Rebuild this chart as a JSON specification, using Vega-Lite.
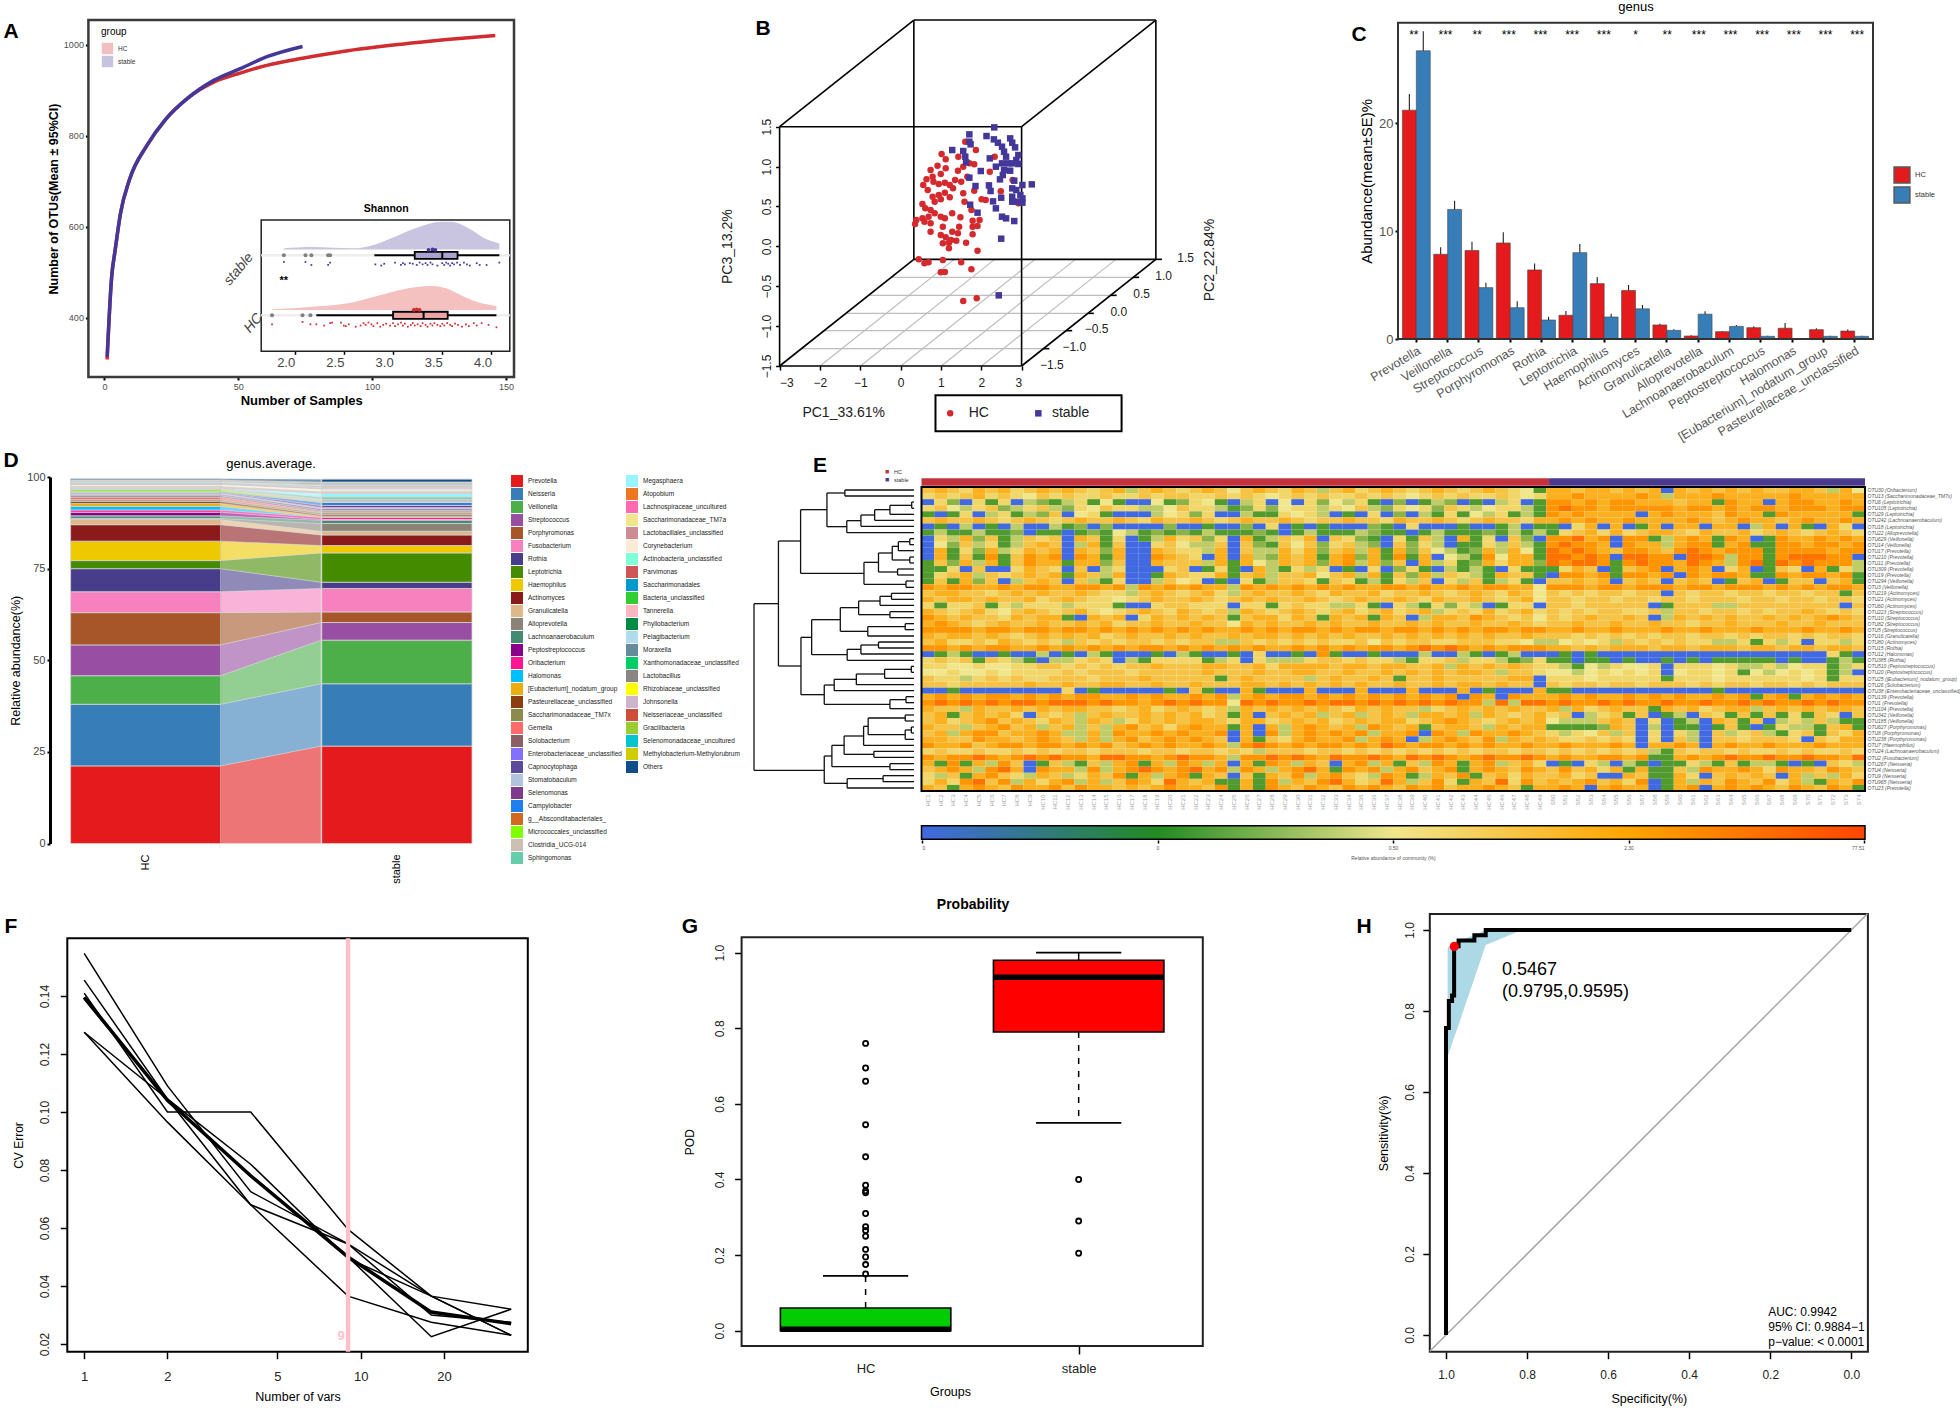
{"$schema":"https://vega.github.io/schema/vega-lite/v6.json","width":1960,"height":1408,"autosize":{"type":"none"},"padding":0,"background":"white",
"config":{"view":{"stroke":null},"font":"Liberation Sans","axis":{"grid":false,"labelFont":"Liberation Sans","titleFont":"Liberation Sans","titleFontWeight":"normal","titleColor":"black","labelColor":"#222","domain":false,"tickColor":"black"},"legend":{"labelFont":"Liberation Sans","titleFont":"Liberation Sans"},"text":{"font":"Liberation Sans"}},
"resolve":{"scale":{"x":"independent","y":"independent","color":"independent","fill":"independent","xOffset":"independent"}},
"layer":[
{"data":{"values":[{"x0":-6,"x1":153,"y0":270.5,"y1":1054}]},"mark":{"type":"rect","fill":"transparent","stroke":"#3a3a3a","strokeWidth":2.5},
"encoding":{"x":{"field":"x0","type":"quantitative","scale":{"domain":[-6,153],"range":[88.4,514],"nice":false,"zero":false},"axis":{"orient":"bottom","offset":-1031,"values":[0,50,100,150],"format":"d","labelFontSize":9,"labelColor":"#4d4d4d","tickWidth":2,"tickSize":3,"title":"Number of Samples","titleFontSize":13,"titleFontWeight":"bold","titlePadding":3}},"x2":{"field":"x1"},"y":{"field":"y0","type":"quantitative","scale":{"domain":[270.5,1054],"range":[377,20],"nice":false,"zero":false},"axis":{"orient":"left","offset":-88.4,"values":[400,600,800,1000],"format":"d","labelFontSize":9,"labelColor":"#4d4d4d","tickWidth":2,"tickSize":3,"title":"Number of OTUs(Mean ± 95%CI)","titleFontSize":12.5,"titleFontWeight":"bold","titlePadding":3}},"y2":{"field":"y1"}}},
{"encoding":{"x":{"field":"x","type":"quantitative","scale":{"domain":[-6,153],"range":[88.4,514],"nice":false,"zero":false},"axis":null},"y":{"field":"y","type":"quantitative","scale":{"domain":[270.5,1054],"range":[377,20],"nice":false,"zero":false},"axis":null}},
"layer":[
{"data":{"values":[{"x":1,"y":309},{"x":2.7,"y":491},{"x":4,"y":549},{"x":6,"y":630},{"x":9.3,"y":703},{"x":16,"y":780},{"x":22.7,"y":835},{"x":31,"y":882},{"x":41,"y":918},{"x":51,"y":938},{"x":61,"y":955},{"x":74,"y":970},{"x":89,"y":985},{"x":111,"y":1001},{"x":128,"y":1011},{"x":146,"y":1020}]},"mark":{"type":"line","color":"#D12C30","strokeWidth":3.5,"interpolate":"monotone"}},
{"data":{"values":[{"x":1,"y":315},{"x":2.7,"y":491},{"x":4,"y":549},{"x":6,"y":630},{"x":9.3,"y":703},{"x":16,"y":780},{"x":22.7,"y":835},{"x":31,"y":882},{"x":41,"y":922},{"x":51,"y":948},{"x":61,"y":974},{"x":74,"y":996}]},"mark":{"type":"line","color":"#43389A","strokeWidth":3.5,"interpolate":"monotone"}},
{"data":{"values":[{"x":10,"y":900,"g":"HC"},{"x":10,"y":900,"g":"stable"}]},"mark":{"type":"square","opacity":0},"encoding":{"fill":{"field":"g","type":"nominal","scale":{"domain":["HC","stable"],"range":["#D12C30","#43389A"]},"legend":{"title":"group","orient":"none","legendX":101,"legendY":27,"symbolType":"square","symbolOpacity":0.3,"symbolSize":130,"labelFontSize":6.5,"titleFontSize":10,"titleFontWeight":"normal","rowPadding":-0.7,"labelColor":"#333"}}}}
]},
{"data":{"values":[{"x0":1.66,"x1":4.186,"y0":0.4,"y1":2.59}]},"mark":{"type":"rect","fill":"white","stroke":"#222","strokeWidth":1.5},
"encoding":{"x":{"field":"x0","type":"quantitative","scale":{"domain":[1.66,4.186],"range":[261.2,509.8],"nice":false,"zero":false},"axis":{"orient":"bottom","offset":-1056.7,"values":[2,2.5,3,3.5,4],"format":".1f","labelFontSize":13,"labelColor":"#444","labelOffset":-9,"tickSize":3,"tickWidth":1.5,"title":null}},"x2":{"field":"x1"},"y":{"field":"y0","type":"quantitative","scale":{"domain":[0.4,2.59],"range":[351.3,220],"nice":false,"zero":false},"axis":null},"y2":{"field":"y1"}}},
{"encoding":{"x":{"field":"x","type":"quantitative","scale":{"domain":[1.66,4.186],"range":[261.2,509.8],"nice":false,"zero":false},"axis":null},"y":{"field":"y","type":"quantitative","scale":{"domain":[0.4,2.59],"range":[351.3,220],"nice":false,"zero":false},"axis":null}},
"layer":[
{"data":{"values":[{"x":1.75},{"x":2},{"x":2.25},{"x":2.5},{"x":2.75},{"x":3},{"x":3.25},{"x":3.5},{"x":3.75},{"x":4}]},"mark":{"type":"rule","color":"#e6e6e6","strokeWidth":1.3},"encoding":{"y":{"datum":0.4,"type":"quantitative","axis":null},"y2":{"datum":2.59}}},
{"data":{"values":[{"x":1.66,"x2":4.186,"y":1},{"x":1.66,"x2":4.186,"y":2}]},"mark":{"type":"rule","color":"#eeeeee","strokeWidth":2.5},"encoding":{"x2":{"field":"x2"}}},
{"data":{"values":[{"x":1.89,"y":2.117,"b":2.1},{"x":2.18,"y":2.139,"b":2.1},{"x":2.59,"y":2.117,"b":2.1},{"x":2.82,"y":2.183,"b":2.1},{"x":3.0,"y":2.3,"b":2.1},{"x":3.22,"y":2.45,"b":2.1},{"x":3.5,"y":2.561,"b":2.1},{"x":3.59,"y":2.561,"b":2.1},{"x":3.77,"y":2.45,"b":2.1},{"x":3.95,"y":2.267,"b":2.1},{"x":4.08,"y":2.2,"b":2.1}]},"mark":{"type":"area","color":"#C9C5E0","interpolate":"monotone"},"encoding":{"y2":{"field":"b"}}},
{"data":{"values":[{"x":1.77,"y":1.1,"b":1.09},{"x":2.18,"y":1.144,"b":1.09},{"x":2.54,"y":1.2,"b":1.09},{"x":2.77,"y":1.294,"b":1.09},{"x":3.0,"y":1.394,"b":1.09},{"x":3.22,"y":1.467,"b":1.09},{"x":3.41,"y":1.489,"b":1.09},{"x":3.54,"y":1.45,"b":1.09},{"x":3.72,"y":1.311,"b":1.09},{"x":3.9,"y":1.2,"b":1.09},{"x":4.05,"y":1.156,"b":1.09}]},"mark":{"type":"area","color":"#F4C0C0","interpolate":"monotone"},"encoding":{"y2":{"field":"b"}}},
{"data":{"values":[{"x":2.81,"x2":4.08,"y":2},{"x":2.22,"x2":4.05,"y":1}]},"mark":{"type":"rule","color":"black","strokeWidth":2},"encoding":{"x2":{"field":"x2"}}},
{"data":{"values":[{"x":3.22,"x2":3.655,"y":1.94,"y2":2.06}]},"mark":{"type":"rect","fill":"#A9A3D2","stroke":"black","strokeWidth":1.8},"encoding":{"x2":{"field":"x2"},"y2":{"field":"y2"}}},
{"data":{"values":[{"x":3.0,"x2":3.555,"y":0.94,"y2":1.06}]},"mark":{"type":"rect","fill":"#EDA3A3","stroke":"black","strokeWidth":1.8},"encoding":{"x2":{"field":"x2"},"y2":{"field":"y2"}}},
{"data":{"values":[{"x":3.5,"y":1.94,"y2":2.06},{"x":3.31,"y":0.94,"y2":1.06}]},"mark":{"type":"rule","color":"black","strokeWidth":2},"encoding":{"y2":{"field":"y2"}}},
{"data":{"values":[{"x":1.89,"y":2},{"x":2.11,"y":2},{"x":2.17,"y":2},{"x":2.34,"y":2},{"x":2.36,"y":2},{"x":1.77,"y":1},{"x":2.08,"y":1},{"x":2.16,"y":1}]},"mark":{"type":"circle","color":"#808080","size":16,"opacity":1}},
{"data":{"values":[{"x":3.4,"y":2.1},{"x":3.36,"y":2.09},{"x":3.43,"y":2.09}]},"mark":{"type":"circle","color":"#43389A","size":14,"opacity":1}},
{"data":{"values":[{"x":3.24,"y":1.1},{"x":3.21,"y":1.09},{"x":3.27,"y":1.09}]},"mark":{"type":"circle","color":"#D12C30","size":14,"opacity":1}},
{"data":{"values":[{"x":1.89,"y":1.89},{"x":2.11,"y":1.89},{"x":2.17,"y":1.84},{"x":2.34,"y":1.84},{"x":2.36,"y":1.88},{"x":2.82,"y":1.85},{"x":2.88,"y":1.83},{"x":2.91,"y":1.86},{"x":3.02,"y":1.88},{"x":3.08,"y":1.84},{"x":3.1,"y":1.87},{"x":3.12,"y":1.85},{"x":3.17,"y":1.87},{"x":3.2,"y":1.86},{"x":3.24,"y":1.84},{"x":3.27,"y":1.88},{"x":3.3,"y":1.85},{"x":3.33,"y":1.87},{"x":3.35,"y":1.84},{"x":3.38,"y":1.88},{"x":3.4,"y":1.85},{"x":3.45,"y":1.83},{"x":3.5,"y":1.87},{"x":3.52,"y":1.84},{"x":3.54,"y":1.88},{"x":3.56,"y":1.86},{"x":3.58,"y":1.83},{"x":3.6,"y":1.87},{"x":3.62,"y":1.85},{"x":3.65,"y":1.88},{"x":3.68,"y":1.84},{"x":3.72,"y":1.88},{"x":3.75,"y":1.85},{"x":3.78,"y":1.83},{"x":3.85,"y":1.87},{"x":3.88,"y":1.84},{"x":3.95,"y":1.84},{"x":4.08,"y":1.88}]},"mark":{"type":"square","color":"#43389A","size":3,"opacity":1}},
{"data":{"values":[{"x":1.77,"y":0.85},{"x":2.08,"y":0.89},{"x":2.16,"y":0.85},{"x":2.22,"y":0.85},{"x":2.3,"y":0.83},{"x":2.36,"y":0.87},{"x":2.38,"y":0.88},{"x":2.47,"y":0.88},{"x":2.5,"y":0.83},{"x":2.52,"y":0.82},{"x":2.55,"y":0.85},{"x":2.62,"y":0.81},{"x":2.67,"y":0.83},{"x":2.7,"y":0.87},{"x":2.72,"y":0.84},{"x":2.75,"y":0.88},{"x":2.78,"y":0.85},{"x":2.8,"y":0.82},{"x":2.84,"y":0.87},{"x":2.87,"y":0.81},{"x":2.9,"y":0.84},{"x":2.93,"y":0.86},{"x":2.97,"y":0.83},{"x":3.0,"y":0.87},{"x":3.02,"y":0.82},{"x":3.05,"y":0.85},{"x":3.08,"y":0.88},{"x":3.1,"y":0.83},{"x":3.12,"y":0.86},{"x":3.15,"y":0.81},{"x":3.18,"y":0.84},{"x":3.2,"y":0.87},{"x":3.22,"y":0.83},{"x":3.25,"y":0.85},{"x":3.28,"y":0.82},{"x":3.3,"y":0.87},{"x":3.33,"y":0.84},{"x":3.35,"y":0.81},{"x":3.38,"y":0.86},{"x":3.4,"y":0.83},{"x":3.42,"y":0.87},{"x":3.45,"y":0.84},{"x":3.48,"y":0.82},{"x":3.5,"y":0.86},{"x":3.52,"y":0.83},{"x":3.55,"y":0.87},{"x":3.58,"y":0.84},{"x":3.6,"y":0.82},{"x":3.63,"y":0.86},{"x":3.66,"y":0.84},{"x":3.7,"y":0.81},{"x":3.74,"y":0.85},{"x":3.77,"y":0.82},{"x":3.82,"y":0.87},{"x":3.85,"y":0.83},{"x":3.9,"y":0.87},{"x":3.97,"y":0.84},{"x":4.05,"y":0.8}]},"mark":{"type":"square","color":"#D12C30","size":3,"opacity":1}},
{"data":{"values":[{"x":1.89,"y":1.57,"t":"**"}]},"mark":{"type":"text","fontSize":11,"fontWeight":"bold","baseline":"middle"},"encoding":{"text":{"field":"t"}}},
{"data":{"values":[{"x":1.43,"y":1.77,"t":"stable"},{"x":1.58,"y":0.87,"t":"HC"}]},"mark":{"type":"text","fontSize":14,"fontStyle":"italic","angle":310,"color":"#444","align":"center","baseline":"middle"},"encoding":{"text":{"field":"t"}}},
{"data":{"values":[{"x":2.93,"y":2.77,"t":"Shannon"}]},"mark":{"type":"text","fontSize":10.5,"fontWeight":"bold","align":"center","baseline":"middle"},"encoding":{"text":{"field":"t"}}}
]},
{"encoding":{"x":{"field":"x","type":"quantitative","axis":null},"y":{"field":"y","type":"quantitative","axis":null},"x2":{"field":"x2"},"y2":{"field":"y2"}},
"layer":[
{"data":{"values":[{"x":248.5,"x2":841.5,"y":1046,"y2":1046},{"x":304,"x2":897,"y":992,"y2":992},{"x":357.4,"x2":950,"y":940,"y2":940},{"x":413,"x2":1006,"y":886,"y2":886},{"x":468.5,"x2":1061.5,"y":832,"y2":832},{"x":294,"x2":623,"y":1098,"y2":778},{"x":393,"x2":722,"y":1098,"y2":778},{"x":492,"x2":821,"y":1098,"y2":778},{"x":591,"x2":920,"y":1098,"y2":778},{"x":690,"x2":1019,"y":1098,"y2":778}]},"mark":{"type":"rule","color":"#bdbdbd","strokeWidth":1.2},
"encoding":{"x":{"field":"x","type":"quantitative","scale":{"domain":[195,788],"range":[779.6,1021.6],"nice":false,"zero":false},"axis":null},"y":{"field":"y","type":"quantitative","scale":{"domain":[1098,380],"range":[366,126.7],"nice":false,"zero":false},"axis":null}}},
{"data":{"values":[{"x":195,"x2":788,"y":380,"y2":380},{"x":195,"x2":788,"y":1098,"y2":1098},{"x":195,"x2":195,"y":380,"y2":1098},{"x":788,"x2":788,"y":380,"y2":1098},{"x":524,"x2":1117,"y":60,"y2":60},{"x":524,"x2":1117,"y":778,"y2":778},{"x":524,"x2":524,"y":60,"y2":778},{"x":1117,"x2":1117,"y":60,"y2":778},{"x":195,"x2":524,"y":380,"y2":60},{"x":788,"x2":1117,"y":380,"y2":60},{"x":195,"x2":524,"y":1098,"y2":778},{"x":788,"x2":1117,"y":1098,"y2":778},{"x":841.5,"x2":856,"y":1046,"y2":1046},{"x":897,"x2":912,"y":992,"y2":992},{"x":950,"x2":965,"y":940,"y2":940},{"x":1006,"x2":1021,"y":886,"y2":886},{"x":1061.5,"x2":1076,"y":832,"y2":832},{"x":1117,"x2":1132,"y":778,"y2":778}]},"mark":{"type":"rule","color":"black","strokeWidth":1.6}},
{"data":{"values":[{"x":650,"y":425},{"x":676,"y":450},{"x":633,"y":470},{"x":592,"y":462},{"x":602,"y":478},{"x":582,"y":497},{"x":602,"y":505},{"x":590,"y":522},{"x":565,"y":510},{"x":570,"y":530},{"x":555,"y":538},{"x":547,"y":555},{"x":558,"y":570},{"x":572,"y":545},{"x":585,"y":552},{"x":600,"y":548},{"x":612,"y":555},{"x":625,"y":540},{"x":632,"y":512},{"x":645,"y":500},{"x":660,"y":490},{"x":672,"y":493},{"x":655,"y":530},{"x":640,"y":545},{"x":620,"y":565},{"x":600,"y":578},{"x":585,"y":585},{"x":570,"y":590},{"x":575,"y":605},{"x":590,"y":598},{"x":612,"y":592},{"x":645,"y":580},{"x":672,"y":572},{"x":690,"y":598},{"x":700,"y":600},{"x":737,"y":574},{"x":710,"y":515},{"x":648,"y":605},{"x":665,"y":630},{"x":545,"y":612},{"x":552,"y":625},{"x":565,"y":630},{"x":575,"y":640},{"x":560,"y":650},{"x":545,"y":655},{"x":530,"y":660},{"x":527,"y":672},{"x":550,"y":665},{"x":565,"y":670},{"x":590,"y":650},{"x":600,"y":655},{"x":618,"y":640},{"x":638,"y":652},{"x":668,"y":662},{"x":685,"y":660},{"x":668,"y":680},{"x":680,"y":678},{"x":635,"y":680},{"x":618,"y":695},{"x":595,"y":680},{"x":565,"y":695},{"x":590,"y":705},{"x":602,"y":712},{"x":615,"y":720},{"x":632,"y":700},{"x":628,"y":722},{"x":610,"y":728},{"x":595,"y":730},{"x":610,"y":745},{"x":652,"y":728},{"x":668,"y":703},{"x":680,"y":752},{"x":536,"y":778},{"x":550,"y":790},{"x":560,"y":787},{"x":595,"y":780},{"x":640,"y":787},{"x":665,"y":808},{"x":590,"y":817},{"x":600,"y":816},{"x":645,"y":903},{"x":678,"y":895},{"x":722,"y":470},{"x":780,"y":610},{"x":766,"y":540},{"x":613,"y":1240}]},"mark":{"type":"circle","color":"#D42A2E","size":42,"opacity":1},"encoding":{"x2":null,"y2":null}},
{"data":{"values":[{"x":721,"y":382},{"x":660,"y":403},{"x":702,"y":408},{"x":660,"y":425},{"x":663,"y":433},{"x":720,"y":418},{"x":730,"y":428},{"x":760,"y":415},{"x":765,"y":428},{"x":740,"y":440},{"x":772,"y":442},{"x":618,"y":450},{"x":645,"y":453},{"x":650,"y":470},{"x":652,"y":487},{"x":710,"y":475},{"x":745,"y":455},{"x":750,"y":470},{"x":780,"y":465},{"x":775,"y":480},{"x":740,"y":490},{"x":725,"y":500},{"x":755,"y":490},{"x":765,"y":490},{"x":780,"y":492},{"x":745,"y":510},{"x":760,"y":512},{"x":742,"y":525},{"x":735,"y":538},{"x":688,"y":513},{"x":660,"y":533},{"x":675,"y":558},{"x":708,"y":556},{"x":712,"y":573},{"x":770,"y":542},{"x":790,"y":555},{"x":813,"y":553},{"x":765,"y":565},{"x":775,"y":570},{"x":785,"y":585},{"x":765,"y":590},{"x":790,"y":595},{"x":775,"y":605},{"x":765,"y":605},{"x":790,"y":608},{"x":718,"y":604},{"x":738,"y":593},{"x":662,"y":614},{"x":725,"y":625},{"x":680,"y":638},{"x":740,"y":650},{"x":750,"y":655},{"x":770,"y":663},{"x":738,"y":716},{"x":732,"y":886},{"x":829,"y":1240}]},"mark":{"type":"square","color":"#43389A","size":42,"opacity":1},"encoding":{"x2":null,"y2":null}},
{"data":{"values":[{"x":577,"x2":1033,"y":1186,"y2":1294}]},"mark":{"type":"rect","fill":"transparent","stroke":"black","strokeWidth":2}},
{"data":{"values":[{"x":862,"y":1095,"t":"−1.5"},{"x":917,"y":1042,"t":"−1.0"},{"x":972,"y":988,"t":"−0.5"},{"x":1026,"y":935,"t":"0.0"},{"x":1082,"y":882,"t":"0.5"},{"x":1136,"y":828,"t":"1.0"},{"x":1190,"y":775,"t":"1.5"}]},"mark":{"type":"text","fontSize":12,"align":"center","baseline":"middle","color":"#222"},"encoding":{"text":{"field":"t"},"x2":null,"y2":null}},
{"data":{"values":[{"x":352,"y":1240,"t":"PC1_33.61%"},{"x":683,"y":1240,"t":"HC"},{"x":908,"y":1240,"t":"stable"}]},"mark":{"type":"text","fontSize":14,"align":"center","baseline":"middle","color":"#222"},"encoding":{"text":{"field":"t"},"x2":null,"y2":null}},
{"data":{"values":[{"x":68,"y":740,"t":"PC3_13.2%"},{"x":1250,"y":780,"t":"PC2_22.84%"}]},"mark":{"type":"text","fontSize":14,"angle":270,"align":"center","baseline":"middle","color":"#222"},"encoding":{"text":{"field":"t"},"x2":null,"y2":null}}
]},
{"data":{"values":[{"a":-3,"b":-1.5},{"a":3,"b":1.5}]},"mark":{"type":"point","opacity":0},"encoding":{"x":{"field":"a","type":"quantitative","scale":{"domain":[-3,3],"range":[779.6,1021.6],"nice":false,"zero":false},"axis":{"orient":"bottom","offset":-1042,"values":[-3,-2,-1,0,1,2,3],"labelFontSize":12,"labelPadding":7,"tickSize":4,"tickWidth":1.5,"title":null,"format":"d"}},"y":{"field":"b","type":"quantitative","scale":{"domain":[-1.5,1.5],"range":[366,126.7],"nice":false,"zero":false},"axis":{"orient":"left","offset":-779.6,"values":[-1.5,-1,-0.5,0,0.5,1,1.5],"format":".1f","labelFontSize":12,"labelAngle":-90,"tickSize":4,"tickWidth":1.5,"title":null}}}},
{"data":{"values":[{"genus":"Prevotella","g":"HC","v":21.2,"e":22.7},{"genus":"Prevotella","g":"stable","v":26.7,"e":28.5},{"genus":"Veillonella","g":"HC","v":7.85,"e":8.5},{"genus":"Veillonella","g":"stable","v":12,"e":12.8},{"genus":"Streptococcus","g":"HC","v":8.2,"e":9},{"genus":"Streptococcus","g":"stable","v":4.76,"e":5.2},{"genus":"Porphyromonas","g":"HC","v":8.9,"e":9.9},{"genus":"Porphyromonas","g":"stable","v":2.9,"e":3.5},{"genus":"Rothia","g":"HC","v":6.4,"e":7},{"genus":"Rothia","g":"stable","v":1.76,"e":2.05},{"genus":"Leptotrichia","g":"HC","v":2.2,"e":2.6},{"genus":"Leptotrichia","g":"stable","v":8,"e":8.8},{"genus":"Haemophilus","g":"HC","v":5.13,"e":5.75},{"genus":"Haemophilus","g":"stable","v":2.04,"e":2.35},{"genus":"Actinomyces","g":"HC","v":4.5,"e":5},{"genus":"Actinomyces","g":"stable","v":2.8,"e":3.15},{"genus":"Granulicatella","g":"HC","v":1.3,"e":1.42},{"genus":"Granulicatella","g":"stable","v":0.8,"e":0.9},{"genus":"Alloprevotella","g":"HC","v":0.28,"e":0.34},{"genus":"Alloprevotella","g":"stable","v":2.3,"e":2.57},{"genus":"Lachnoanaerobaculum","g":"HC","v":0.68,"e":0.74},{"genus":"Lachnoanaerobaculum","g":"stable","v":1.17,"e":1.3},{"genus":"Peptostreptococcus","g":"HC","v":1.05,"e":1.17},{"genus":"Peptostreptococcus","g":"stable","v":0.25,"e":0.31},{"genus":"Halomonas","g":"HC","v":1,"e":1.48},{"genus":"Halomonas","g":"stable","v":0.02,"e":0.02},{"genus":"[Eubacterium]_nodatum_group","g":"HC","v":0.87,"e":1},{"genus":"[Eubacterium]_nodatum_group","g":"stable","v":0.25,"e":0.31},{"genus":"Pasteurellaceae_unclassified","g":"HC","v":0.74,"e":0.87},{"genus":"Pasteurellaceae_unclassified","g":"stable","v":0.25,"e":0.31}]},
"encoding":{"x":{"field":"genus","type":"nominal","sort":null,"scale":{"range":[1398,1873],"paddingInner":0.11,"paddingOuter":0.14},"axis":{"orient":"bottom","offset":-1069,"labelAngle":-31,"labelAlign":"right","labelFontSize":12.5,"labelColor":"#555","labelLimit":0,"labelOverlap":false,"tickSize":3,"tickWidth":2,"title":null}},"xOffset":{"field":"g","type":"nominal"},"y":{"field":"v","type":"quantitative","scale":{"domain":[0,29.3],"range":[339,22.7],"nice":false},"axis":null}},
"layer":[
{"mark":{"type":"bar","stroke":"#444","strokeWidth":0.6},"encoding":{"color":{"field":"g","type":"nominal","scale":{"domain":["HC","stable"],"range":["#E41A1C","#377EB8"]},"legend":{"title":null,"orient":"none","legendX":1893,"legendY":166,"symbolType":"square","symbolSize":250,"symbolStrokeColor":"#555","labelFontSize":7.5,"labelColor":"#333","rowPadding":-6.4,"labelOffset":4}}}},
{"mark":{"type":"rule","color":"#222","strokeWidth":1.1},"encoding":{"y2":{"field":"e"}}}
]},
{"data":{"values":[{"genus":"Prevotella","t":"**"},{"genus":"Veillonella","t":"***"},{"genus":"Streptococcus","t":"**"},{"genus":"Porphyromonas","t":"***"},{"genus":"Rothia","t":"***"},{"genus":"Leptotrichia","t":"***"},{"genus":"Haemophilus","t":"***"},{"genus":"Actinomyces","t":"*"},{"genus":"Granulicatella","t":"**"},{"genus":"Alloprevotella","t":"***"},{"genus":"Lachnoanaerobaculum","t":"***"},{"genus":"Peptostreptococcus","t":"***"},{"genus":"Halomonas","t":"***"},{"genus":"[Eubacterium]_nodatum_group","t":"***"},{"genus":"Pasteurellaceae_unclassified","t":"***"}]},"mark":{"type":"text","fontSize":12,"baseline":"top"},"encoding":{"x":{"field":"genus","type":"nominal","sort":null,"scale":{"range":[1398,1873],"paddingInner":0.11,"paddingOuter":0.14},"axis":null},"y":{"datum":1,"type":"quantitative","scale":{"domain":[0,1],"range":[22,30]},"axis":null},"text":{"field":"t"}}},
{"data":{"values":[{"a":0,"b":1,"c":0,"d":29.3}]},"mark":{"type":"rect","fill":"transparent","stroke":"#333","strokeWidth":2},"encoding":{"x":{"field":"a","type":"quantitative","scale":{"domain":[0,1],"range":[1398,1873]},"axis":null},"x2":{"field":"b"},"y":{"field":"c","type":"quantitative","scale":{"domain":[0,29.3],"range":[339,22.7],"nice":false},"axis":{"orient":"left","offset":-1398,"values":[0,10,20],"labelFontSize":13,"labelColor":"#555","tickSize":3,"tickWidth":2,"title":"Abundance(mean±SE)%","titleFontSize":15,"titlePadding":4}},"y2":{"field":"d"}}},
{"data":{"values":[{"g":"Prevotella","k":1,"HC":21.2,"stable":26.6},{"g":"Neisseria","k":2,"HC":16.8,"stable":17},{"g":"Veillonella","k":3,"HC":7.8,"stable":11.9},{"g":"Streptococcus","k":4,"HC":8.4,"stable":4.8},{"g":"Porphyromonas","k":5,"HC":8.8,"stable":2.9},{"g":"Fusobacterium","k":6,"HC":5.7,"stable":6.4},{"g":"Rothia","k":7,"HC":6.3,"stable":1.7},{"g":"Leptotrichia","k":8,"HC":2.2,"stable":8},{"g":"Haemophilus","k":9,"HC":5.3,"stable":2},{"g":"Actinomyces","k":10,"HC":4.5,"stable":2.9},{"g":"Granulicatella","k":11,"HC":1.4,"stable":1},{"g":"Alloprevotella","k":12,"HC":0.3,"stable":2.1},{"g":"Lachnoanaerobaculum","k":13,"HC":0.7,"stable":0.9},{"g":"Peptostreptococcus","k":14,"HC":1,"stable":0.2},{"g":"Oribacterium","k":15,"HC":0.6,"stable":0.6},{"g":"Halomonas","k":16,"HC":1,"stable":0.02},{"g":"[Eubacterium]_nodatum_group","k":17,"HC":0.8,"stable":0.3},{"g":"Pasteurellaceae_unclassified","k":18,"HC":0.6,"stable":0.4},{"g":"Saccharimonadaceae_TM7x","k":19,"HC":0.4,"stable":0.5},{"g":"Gemella","k":20,"HC":0.7,"stable":0.3},{"g":"Solobacterium","k":21,"HC":0.4,"stable":0.4},{"g":"Enterobacteriaceae_unclassified","k":22,"HC":0.15,"stable":0.02},{"g":"Capnocytophaga","k":23,"HC":0.25,"stable":0.4},{"g":"Stomatobaculum","k":24,"HC":0.3,"stable":0.3},{"g":"Selenomonas","k":25,"HC":0.2,"stable":0.6},{"g":"Campylobacter","k":26,"HC":0.15,"stable":0.8},{"g":"g__Absconditabacteriales_","k":27,"HC":0.15,"stable":0.1},{"g":"Micrococcales_unclassified","k":28,"HC":0.5,"stable":0.02},{"g":"Clostridia_UCG-014","k":29,"HC":0.3,"stable":0.8},{"g":"Sphingomonas","k":30,"HC":0.05,"stable":0.6},{"g":"Megasphaera","k":31,"HC":0.05,"stable":1},{"g":"Atopobium","k":32,"HC":0.1,"stable":0.1},{"g":"Lachnospiraceae_uncultured","k":33,"HC":0.1,"stable":0.15},{"g":"Saccharimonadaceae_TM7a","k":34,"HC":0.05,"stable":0.15},{"g":"Lactobacillales_unclassified","k":35,"HC":0.2,"stable":0.1},{"g":"Corynebacterium","k":36,"HC":0.5,"stable":0.7},{"g":"Actinobacteria_unclassified","k":37,"HC":0.1,"stable":0.05},{"g":"Parvimonas","k":38,"HC":0.1,"stable":0.1},{"g":"Saccharimonadales","k":39,"HC":0.03,"stable":0.03},{"g":"Bacteria_unclassified","k":40,"HC":0.03,"stable":0.03},{"g":"Tannerella","k":41,"HC":0.1,"stable":0.4},{"g":"Phyllobacterium","k":42,"HC":0.03,"stable":0.15},{"g":"Pelagibacterium","k":43,"HC":0.4,"stable":0.4},{"g":"Moraxella","k":44,"HC":0.03,"stable":0.03},{"g":"Xanthomonadaceae_unclassified","k":45,"HC":0.03,"stable":0.03},{"g":"Lactobacillus","k":46,"HC":0.1,"stable":0.4},{"g":"Rhizobiaceae_unclassified","k":47,"HC":0.03,"stable":0.02},{"g":"Johnsonella","k":48,"HC":0.2,"stable":0.1},{"g":"Neisseriaceae_unclassified","k":49,"HC":0.03,"stable":0.03},{"g":"Gracilibacteria","k":50,"HC":0.02,"stable":0.05},{"g":"Selenomonadaceae_uncultured","k":51,"HC":0.02,"stable":0.02},{"g":"Methylobacterium-Methylorubrum","k":52,"HC":0.02,"stable":0.02},{"g":"Others","k":53,"HC":0.3,"stable":0.8}]},
"transform":[{"fold":["HC","stable"],"as":["t","v"]}],
"resolve":{"scale":{"x":"independent"}},
"encoding":{"y":{"field":"v","type":"quantitative","stack":"zero","scale":{"domain":[0,100],"range":[843.6,477],"nice":false},"axis":null},"order":{"field":"k","type":"quantitative"},"color":{"field":"g","type":"nominal","sort":null,"scale":{"domain":["Prevotella","Neisseria","Veillonella","Streptococcus","Porphyromonas","Fusobacterium","Rothia","Leptotrichia","Haemophilus","Actinomyces","Granulicatella","Alloprevotella","Lachnoanaerobaculum","Peptostreptococcus","Oribacterium","Halomonas","[Eubacterium]_nodatum_group","Pasteurellaceae_unclassified","Saccharimonadaceae_TM7x","Gemella","Solobacterium","Enterobacteriaceae_unclassified","Capnocytophaga","Stomatobaculum","Selenomonas","Campylobacter","g__Absconditabacteriales_","Micrococcales_unclassified","Clostridia_UCG-014","Sphingomonas","Megasphaera","Atopobium","Lachnospiraceae_uncultured","Saccharimonadaceae_TM7a","Lactobacillales_unclassified","Corynebacterium","Actinobacteria_unclassified","Parvimonas","Saccharimonadales","Bacteria_unclassified","Tannerella","Phyllobacterium","Pelagibacterium","Moraxella","Xanthomonadaceae_unclassified","Lactobacillus","Rhizobiaceae_unclassified","Johnsonella","Neisseriaceae_unclassified","Gracilibacteria","Selenomonadaceae_uncultured","Methylobacterium-Methylorubrum","Others"],"range":["#E41A1C","#377EB8","#4DAF4A","#984EA3","#A65628","#F781BF","#483D8B","#458B00","#EEC900","#8B1A1A","#DEB887","#8B8378","#458B74","#8B008B","#FF1493","#00BFFF","#EEAD0E","#8B3E0E","#8B8B4B","#FF6A6A","#8B5F65","#8470FF","#5B4A9B","#B0C4DE","#7D3A8C","#1E7FEE","#D2691E","#7FFF00","#CDC0B0","#66CDAA","#98F5FF","#EE7621","#FF69B4","#F0E68C","#CD8C95","#FDEBD7","#7FFFD4","#CD5555","#009ACD","#32CD32","#FFB6C1","#008B45","#B0DDEE","#668B9B","#00CD66","#8B8682","#FFFF00","#CDB5CD","#CD4F39","#9ACD32","#00C5CD","#CDCD00","#104E8B"]},"legend":null}},
"layer":[
{"mark":{"type":"bar","stroke":"#d4d4d4","strokeWidth":0.8},"encoding":{"x":{"field":"t","type":"nominal","scale":{"domain":["HC","stable"],"range":[70.6,472],"paddingInner":0.4016,"paddingOuter":0},"axis":{"orient":"bottom","offset":-564,"labelAngle":-90,"labelFontSize":11,"labelColor":"black","labelPadding":10,"ticks":false,"title":null}}}},
{"mark":{"type":"area","opacity":0.6,"stroke":"#d4d4d4","strokeWidth":0.5},"encoding":{"x":{"field":"t","type":"nominal","scale":{"type":"point","domain":["HC","stable"],"range":[220.5,321],"padding":0},"axis":null}}}
]},
{"data":{"values":[{"p":0},{"p":100}]},"mark":{"type":"point","opacity":0},"encoding":{"y":{"field":"p","type":"quantitative","scale":{"domain":[0,100],"range":[843.6,477],"nice":false},"axis":{"orient":"left","offset":-50,"values":[0,25,50,75,100],"labelFontSize":11,"labelColor":"#444","domain":true,"domainWidth":3,"domainColor":"black","tickSize":3,"tickWidth":2,"title":"Relative abundance(%)","titleFontSize":12.5,"titlePadding":4}}}},
{"data":{"values":[{"g":"Prevotella"}]},"mark":{"type":"square","opacity":0},"encoding":{"fill":{"field":"g","type":"nominal","scale":{"domain":["Prevotella","Neisseria","Veillonella","Streptococcus","Porphyromonas","Fusobacterium","Rothia","Leptotrichia","Haemophilus","Actinomyces","Granulicatella","Alloprevotella","Lachnoanaerobaculum","Peptostreptococcus","Oribacterium","Halomonas","[Eubacterium]_nodatum_group","Pasteurellaceae_unclassified","Saccharimonadaceae_TM7x","Gemella","Solobacterium","Enterobacteriaceae_unclassified","Capnocytophaga","Stomatobaculum","Selenomonas","Campylobacter","g__Absconditabacteriales_","Micrococcales_unclassified","Clostridia_UCG-014","Sphingomonas"],"range":["#E41A1C","#377EB8","#4DAF4A","#984EA3","#A65628","#F781BF","#483D8B","#458B00","#EEC900","#8B1A1A","#DEB887","#8B8378","#458B74","#8B008B","#FF1493","#00BFFF","#EEAD0E","#8B3E0E","#8B8B4B","#FF6A6A","#8B5F65","#8470FF","#5B4A9B","#B0C4DE","#7D3A8C","#1E7FEE","#D2691E","#7FFF00","#CDC0B0","#66CDAA"]},"legend":{"title":null,"orient":"none","legendX":510,"legendY":474,"symbolType":"square","symbolSize":144,"symbolOpacity":1,"symbolLimit":0,"labelFontSize":6.5,"labelColor":"#222","labelLimit":0,"rowPadding":-5.9,"labelOffset":4}}}},
{"data":{"values":[{"g":"Megasphaera"}]},"mark":{"type":"square","opacity":0},"encoding":{"fill":{"field":"g","type":"nominal","scale":{"domain":["Megasphaera","Atopobium","Lachnospiraceae_uncultured","Saccharimonadaceae_TM7a","Lactobacillales_unclassified","Corynebacterium","Actinobacteria_unclassified","Parvimonas","Saccharimonadales","Bacteria_unclassified","Tannerella","Phyllobacterium","Pelagibacterium","Moraxella","Xanthomonadaceae_unclassified","Lactobacillus","Rhizobiaceae_unclassified","Johnsonella","Neisseriaceae_unclassified","Gracilibacteria","Selenomonadaceae_uncultured","Methylobacterium-Methylorubrum","Others"],"range":["#98F5FF","#EE7621","#FF69B4","#F0E68C","#CD8C95","#FDEBD7","#7FFFD4","#CD5555","#009ACD","#32CD32","#FFB6C1","#008B45","#B0DDEE","#668B9B","#00CD66","#8B8682","#FFFF00","#CDB5CD","#CD4F39","#9ACD32","#00C5CD","#CDCD00","#104E8B"]},"legend":{"title":null,"orient":"none","legendX":625,"legendY":474,"symbolType":"square","symbolSize":144,"symbolOpacity":1,"symbolLimit":0,"labelFontSize":6.5,"labelColor":"#222","labelLimit":0,"rowPadding":-5.9,"labelOffset":4}}}},
{"data":{"values":[{"o":"OTU30 (Oribacterium)","v":[6,7,6,5,7,6,7,5,6,7,6,7,6,5,6,7,3,6,7,6,5,6,7,6,4,6,7,6,5,7,6,3,6,7,5,6,7,6,5,6,7,6,5,6,7,6,5,4,1,7,7,6,7,7,6,7,6,7,0,7,6,7,6,7,6,7,6,6,7,7,6,3,7,4]},
{"o":"OTU13 (Saccharimonadaceae_TM7x)","v":[5,6,5,6,7,5,6,5,4,6,5,6,5,5,6,5,5,6,5,6,6,5,5,6,5,6,5,4,5,6,5,6,5,5,6,5,6,5,4,5,6,5,6,5,5,6,5,4,5,7,7,8,7,7,7,7,8,7,3,7,7,7,8,7,7,7,7,7,8,7,7,7,7,7]},
{"o":"OTU6 (Leptotrichia)","v":[0,5,2,0,5,1,5,0,3,2,1,3,5,1,4,1,0,0,4,1,2,5,4,1,0,3,5,0,4,0,5,2,4,3,5,1,0,2,0,1,3,2,0,1,0,3,5,0,1,8,8,7,8,7,8,8,7,7,7,6,7,7,1,8,7,7,0,7,8,8,7,7,8,7]},
{"o":"OTU105 (Leptotrichia)","v":[5,6,4,3,5,6,2,3,5,6,3,2,5,4,6,5,5,3,3,4,6,5,5,3,1,2,5,2,4,5,5,3,5,4,6,3,2,5,4,5,2,6,5,3,4,5,5,3,1,8,9,8,8,7,8,8,8,8,8,7,8,8,7,8,7,8,8,7,8,8,8,7,8,8]},
{"o":"OTU29 (Leptotrichia)","v":[1,0,1,5,0,3,5,1,3,2,6,0,4,5,1,0,0,0,3,4,5,2,5,0,0,3,1,1,5,4,5,3,0,1,0,5,0,2,0,3,1,5,1,4,3,5,1,3,1,8,7,8,7,7,7,7,0,7,8,7,7,7,6,8,7,7,1,8,7,7,7,7,7,1]},
{"o":"OTU242 (Lachnoanaerobaculum)","v":[6,7,6,6,7,6,5,6,7,6,5,6,7,6,6,7,6,5,7,6,6,7,6,5,6,7,6,6,7,6,5,6,6,7,6,6,5,7,6,6,7,6,5,6,7,6,6,5,7,7,8,7,8,7,7,8,7,7,7,7,8,7,6,7,8,7,7,6,7,8,7,7,8,7]},
{"o":"OTU18 (Leptotrichia)","v":[0,1,0,3,0,1,0,3,0,0,3,1,2,0,2,0,0,0,0,2,0,0,1,0,0,2,0,5,0,1,0,1,0,0,0,2,1,0,5,0,0,0,1,0,0,1,3,0,1,1,0,5,7,0,7,0,1,7,0,7,7,0,7,7,0,3,7,0,7,1,0,7,5,0]},
{"o":"OTU22 (Alloprevotella)","v":[1,3,1,1,3,1,1,2,0,1,1,0,1,2,1,4,3,1,2,1,2,1,3,1,1,1,2,1,0,1,3,1,1,1,3,2,1,1,0,1,3,1,1,1,2,1,3,1,3,1,5,6,7,5,7,5,6,7,7,6,5,7,6,6,7,5,6,7,6,5,6,7,6,5]},
{"o":"OTU629 (Veillonella)","v":[0,5,3,7,2,6,1,3,6,5,6,0,7,6,1,5,0,1,3,7,5,6,2,5,0,7,1,3,6,5,7,0,6,5,2,1,0,5,1,6,3,0,7,1,5,0,6,2,0,8,8,9,7,8,0,8,8,1,3,7,8,7,1,8,7,0,1,8,7,7,8,7,8,7]},
{"o":"OTU14 (Veillonella)","v":[0,4,2,6,3,5,1,3,6,7,6,0,3,7,1,6,0,0,5,6,4,3,3,6,0,6,2,1,6,4,6,2,5,6,3,2,0,6,2,5,3,0,1,1,5,3,6,3,1,8,9,8,8,7,0,8,7,7,3,7,8,8,1,7,8,1,1,8,8,7,8,8,7,8]},
{"o":"OTU17 (Prevotella)","v":[0,7,1,5,2,7,3,5,7,6,7,0,7,6,2,7,0,0,7,6,5,5,3,7,0,6,3,3,7,5,7,2,6,7,3,7,1,7,2,6,4,3,1,2,7,3,7,4,1,9,8,9,8,7,6,8,8,7,6,8,9,8,7,8,8,8,1,8,8,8,8,7,8,8]},
{"o":"OTU210 (Prevotella)","v":[0,7,1,6,1,8,1,6,8,7,8,0,8,7,1,7,0,0,8,7,6,5,0,7,0,7,3,2,7,6,7,1,7,8,2,7,1,8,1,7,0,4,3,1,8,4,7,7,1,9,9,8,9,8,0,9,9,8,8,0,9,9,8,3,8,8,1,8,9,9,9,8,8,0]},
{"o":"OTU11 (Prevotella)","v":[1,6,2,7,3,7,1,6,8,7,7,1,7,7,2,6,0,0,7,6,6,6,3,7,1,7,4,3,7,6,7,2,7,8,3,7,2,6,0,7,3,5,1,2,7,5,7,7,2,9,8,9,9,8,1,8,9,8,8,7,9,8,7,3,8,9,1,9,8,9,8,8,8,3]},
{"o":"OTU309 (Prevotella)","v":[1,1,5,0,6,0,0,5,7,6,5,0,6,0,3,5,0,0,0,5,6,0,1,5,1,0,7,3,1,5,3,5,0,1,0,5,0,2,5,1,0,3,1,3,1,0,5,1,1,1,5,7,6,0,1,6,7,8,0,7,8,7,0,5,7,0,1,6,5,0,7,1,5,3]},
{"o":"OTU19 (Prevotella)","v":[1,5,6,7,3,6,5,6,7,6,7,1,7,6,3,7,0,0,1,7,6,5,5,7,1,6,7,3,6,6,7,4,6,7,3,7,1,6,2,7,3,6,5,3,1,7,6,6,1,0,8,8,7,8,1,8,8,7,8,0,8,7,8,8,7,1,1,8,7,8,8,7,8,1]},
{"o":"OTU294 (Veillonella)","v":[1,6,1,7,2,6,0,3,6,7,6,0,6,3,1,5,0,0,3,6,4,5,0,1,0,5,1,3,6,6,5,1,6,5,1,3,1,5,3,6,0,5,3,6,1,3,5,1,0,6,6,7,6,7,0,6,7,6,0,6,7,6,0,1,6,7,0,1,6,6,0,6,7,1]},
{"o":"OTU3 (Veillonella)","v":[8,7,8,8,7,7,8,7,8,8,7,7,8,8,7,8,3,8,7,8,7,8,7,7,3,8,7,8,7,8,7,8,7,8,7,7,8,8,7,8,7,7,8,7,8,8,7,7,4,8,8,8,7,8,8,7,8,8,8,7,8,8,7,8,8,8,7,8,7,8,7,8,8,7]},
{"o":"OTU219 (Actinomyces)","v":[6,7,7,6,6,5,6,7,6,7,6,6,7,6,5,5,3,6,7,6,5,6,7,5,3,6,7,6,6,7,6,5,7,6,6,7,5,6,6,7,6,5,6,7,6,5,7,6,4,6,5,6,5,6,6,5,6,6,0,6,5,6,6,5,6,6,5,6,6,5,6,6,1,6]},
{"o":"OTU21 (Actinomyces)","v":[7,6,7,7,6,7,6,6,7,5,6,7,6,5,5,4,5,6,7,6,6,7,6,5,6,7,6,7,6,6,7,6,5,6,7,6,6,7,6,5,7,6,6,7,6,5,6,7,4,6,6,5,6,6,5,6,6,5,6,6,5,6,6,6,5,6,6,5,6,6,5,6,6,5]},
{"o":"OTU60 (Actinomyces)","v":[5,1,5,5,6,1,5,3,5,5,5,3,5,5,5,1,0,0,5,6,6,5,5,5,0,5,5,1,5,6,5,5,3,3,5,1,0,5,3,1,5,2,5,3,0,1,5,5,0,6,6,5,6,6,6,6,6,0,1,6,6,6,3,3,6,6,6,6,6,6,6,6,0,6]},
{"o":"OTU223 (Streptococcus)","v":[7,6,5,6,7,5,4,6,7,6,5,6,7,5,4,5,6,7,6,5,7,6,5,6,3,7,6,5,6,7,6,5,6,7,5,6,7,5,6,7,3,5,6,5,7,5,6,7,5,6,5,6,5,6,6,5,5,6,3,6,6,5,6,6,5,6,5,6,6,7,6,5,6,5]},
{"o":"OTU10 (Streptococcus)","v":[8,7,6,7,6,6,5,7,6,7,7,1,0,7,6,7,0,5,7,6,7,6,7,6,1,6,7,7,5,7,6,1,7,6,7,1,7,6,0,3,7,7,6,8,7,6,5,6,4,6,5,6,7,6,6,7,6,0,3,7,6,7,6,7,6,6,7,6,7,6,7,8,7,6]},
{"o":"OTU82 (Streptococcus)","v":[7,8,7,6,5,6,7,6,6,7,6,6,7,6,7,5,6,6,7,6,6,7,6,6,4,7,6,7,6,6,7,6,7,6,6,7,6,6,7,6,7,6,6,7,6,6,7,6,5,6,6,7,6,6,7,6,6,7,6,6,5,6,6,7,6,6,6,7,6,6,7,6,6,6]},
{"o":"OTU5 (Streptococcus)","v":[8,8,8,8,7,8,8,7,8,8,7,8,8,7,8,7,8,7,8,7,8,7,8,7,7,8,7,8,7,8,8,7,8,7,8,8,7,8,8,7,8,7,8,7,8,8,7,8,8,7,7,8,7,7,8,7,7,7,8,7,7,8,7,7,7,8,7,7,7,8,7,7,8,7]},
{"o":"OTU16 (Granulicatella)","v":[7,6,7,7,6,7,6,5,6,7,6,7,6,7,5,6,7,6,6,7,6,7,6,6,7,6,7,7,6,7,6,7,6,7,6,6,7,6,7,6,7,6,7,6,7,6,6,7,6,6,6,5,6,5,6,5,6,5,6,6,5,6,6,5,6,5,6,6,5,6,5,6,6,5]},
{"o":"OTU80 (Actinomyces)","v":[6,7,5,5,6,5,7,6,5,6,5,3,6,5,6,5,6,6,5,6,5,6,6,3,3,6,5,6,5,6,5,6,5,5,6,4,6,5,6,6,5,5,6,6,6,5,5,4,3,3,4,5,4,5,3,6,5,6,5,6,5,5,3,3,5,1,5,3,5,0,5,5,3,5]},
{"o":"OTU15 (Rothia)","v":[8,8,7,8,7,8,8,7,7,8,7,8,7,8,7,8,7,8,8,7,8,7,8,7,8,7,8,7,7,8,7,8,7,8,7,8,8,7,8,9,8,9,8,7,8,7,8,8,8,7,7,6,7,6,7,7,7,6,7,7,6,7,7,7,6,7,7,6,7,7,6,7,7,6]},
{"o":"OTU12 (Halomonas)","v":[0,1,3,1,0,0,1,0,0,3,0,1,0,3,1,0,0,0,1,0,3,1,0,0,1,0,5,0,0,1,0,8,1,0,0,1,0,0,0,3,0,0,3,1,0,1,3,0,0,0,1,0,1,0,0,0,0,0,0,0,0,0,0,0,0,0,0,0,0,0,0,5,1,0]},
{"o":"OTU385 (Rothia)","v":[5,6,5,6,1,6,5,3,1,0,3,3,5,6,5,0,3,1,5,5,5,5,1,3,5,0,5,3,3,3,5,6,6,5,6,5,5,3,1,5,5,6,3,5,5,3,1,2,5,1,1,0,1,1,0,1,0,0,1,0,1,0,1,1,1,1,1,0,1,0,0,1,3,1]},
{"o":"OTU510 (Peptostreptococcus)","v":[5,5,4,4,5,4,4,5,5,6,6,5,6,5,6,5,6,6,7,6,6,6,7,7,6,6,7,5,7,7,7,7,6,7,7,6,7,7,6,6,7,3,7,6,7,6,7,6,5,5,3,1,4,3,5,4,4,5,0,5,5,5,4,5,3,3,5,3,4,5,5,1,3,5]},
{"o":"OTU20 (Peptostreptococcus)","v":[4,4,5,4,4,5,4,5,5,5,5,6,5,6,6,6,5,6,6,6,6,6,7,6,6,6,7,6,6,7,7,6,6,7,6,6,7,6,7,6,7,6,7,7,6,3,6,6,5,4,4,3,4,5,4,5,4,5,0,4,5,5,4,5,1,4,3,4,5,4,5,1,3,0]},
{"o":"OTU25 ([Eubacterium]_nodatum_group)","v":[6,5,5,3,5,6,5,6,5,5,6,6,6,5,6,6,6,7,6,6,6,6,6,1,6,7,6,6,6,6,3,6,7,6,6,7,6,1,6,6,7,6,6,6,6,6,7,7,0,5,5,5,4,5,5,5,5,5,1,5,5,5,4,5,5,5,5,5,5,4,5,1,5,5]},
{"o":"OTU26 (Solobacterium)","v":[6,6,5,6,6,6,6,6,7,6,6,7,6,6,7,7,6,6,7,6,6,7,6,6,6,7,7,6,7,6,7,6,7,6,7,6,6,7,6,6,7,6,7,7,6,7,6,6,0,6,5,6,6,5,6,6,5,6,6,6,5,6,5,6,6,5,6,6,5,6,5,6,6,6]},
{"o":"OTU38 (Enterobacteriaceae_unclassified)","v":[0,0,1,0,0,0,0,0,0,0,0,5,0,1,0,0,0,0,0,1,0,6,1,0,0,7,1,0,0,0,7,0,0,0,7,0,0,0,7,0,0,0,7,0,1,0,0,0,7,1,1,0,0,0,0,0,0,0,0,0,0,0,1,0,0,0,0,0,0,0,0,0,0,0]},
{"o":"OTU139 (Prevotella)","v":[7,8,7,8,7,8,8,7,8,7,8,7,8,8,7,7,8,7,8,7,7,8,7,8,3,7,8,7,8,8,7,8,7,8,7,8,7,8,7,8,7,8,0,8,7,0,8,7,7,7,8,7,8,7,7,8,7,8,7,8,7,7,8,7,8,1,7,8,1,7,8,7,8,7]},
{"o":"OTU1 (Prevotella)","v":[8,9,8,9,8,9,8,9,9,8,9,9,9,8,9,8,8,7,8,9,8,9,8,8,4,9,8,9,8,8,9,8,9,9,8,9,8,9,8,9,8,9,8,8,3,9,3,9,9,8,9,8,8,9,8,9,8,8,9,8,8,9,8,8,9,8,9,8,8,9,8,9,8,8]},
{"o":"OTU104 (Prevotella)","v":[7,6,6,3,7,6,6,7,6,7,6,7,7,6,6,5,6,7,5,6,7,6,5,6,3,7,6,7,6,7,6,7,6,5,7,6,7,6,6,3,5,6,7,6,7,6,7,6,6,7,3,7,5,6,7,6,6,1,7,6,7,5,6,7,7,3,6,7,6,7,6,7,7,6]},
{"o":"OTU342 (Veillonella)","v":[6,7,1,6,7,6,7,5,0,6,5,6,3,6,7,6,6,7,6,7,6,7,5,6,1,7,0,6,7,6,7,3,6,7,3,6,7,6,3,7,7,6,7,3,7,6,5,6,7,5,6,0,3,5,6,1,6,0,1,3,0,6,5,1,6,1,6,1,5,1,6,5,0,6]},
{"o":"OTU185 (Veillonella)","v":[6,7,5,6,7,8,6,7,6,5,7,6,3,7,6,3,5,7,6,7,6,7,7,6,5,7,7,5,6,7,6,7,5,6,7,6,7,7,5,6,7,8,7,6,5,6,7,6,7,4,3,3,3,6,7,6,0,5,0,1,3,0,7,6,1,6,0,3,5,3,6,3,1,1]},
{"o":"OTU627 (Porphyromonas)","v":[7,6,6,3,6,7,8,6,7,3,6,7,3,6,3,7,8,6,7,5,7,8,7,7,1,7,0,7,3,7,8,7,6,7,3,8,7,6,7,1,6,7,7,6,3,7,6,7,7,1,1,1,1,2,7,6,0,3,0,1,1,0,1,6,1,0,1,5,3,3,1,6,7,1]},
{"o":"OTU8 (Porphyromonas)","v":[6,7,3,7,8,8,6,7,7,8,7,3,3,7,3,8,7,7,8,7,8,7,7,8,0,7,0,8,3,7,8,7,8,7,8,3,7,7,8,0,8,7,3,8,7,7,8,7,6,5,3,5,4,6,3,6,0,5,0,5,3,0,6,3,5,6,3,1,5,6,1,6,5,7]},
{"o":"OTU238 (Porphyromonas)","v":[7,7,6,6,8,7,7,6,7,8,7,6,3,7,3,7,8,6,7,8,7,8,7,6,0,7,1,6,5,7,8,7,7,8,3,7,8,7,0,3,7,8,7,6,8,3,7,6,7,6,5,5,6,5,6,5,0,5,0,6,3,0,6,6,5,6,6,6,5,0,6,5,7,7]},
{"o":"OTU7 (Haemophilus)","v":[8,7,7,8,6,7,8,8,7,8,8,7,8,7,8,6,7,8,7,8,7,7,8,7,3,8,9,8,7,8,7,8,8,7,8,7,9,8,7,8,8,7,8,7,8,7,7,8,7,7,8,7,7,7,8,7,0,7,7,8,7,0,7,8,7,7,8,7,7,7,8,7,7,7]},
{"o":"OTU24 (Lachnoanaerobaculum)","v":[5,6,5,5,6,5,5,6,5,6,5,6,6,5,6,6,6,5,6,6,5,6,6,5,6,5,3,6,6,6,5,6,6,5,6,5,6,5,6,5,6,5,6,5,6,6,5,6,6,5,6,5,6,5,6,5,6,3,1,6,5,6,6,5,6,5,5,6,5,6,5,5,6,5]},
{"o":"OTU2 (Fusobacterium)","v":[8,7,8,8,9,8,7,8,9,8,9,8,8,7,9,9,8,8,7,8,9,8,8,7,3,8,8,9,8,9,8,7,9,8,8,9,8,7,9,8,9,8,7,8,9,8,8,9,8,7,8,7,7,8,8,7,8,1,1,7,8,7,8,9,8,8,9,8,8,9,8,8,7,9]},
{"o":"OTU267 (Neisseria)","v":[7,1,8,1,7,3,8,6,0,1,6,3,1,6,3,7,8,1,7,3,8,7,3,7,0,7,1,8,7,3,7,6,0,7,8,3,7,1,6,3,8,7,1,7,8,3,6,7,5,0,1,0,5,3,0,3,1,0,1,1,5,3,1,6,1,3,3,1,0,1,0,6,5,3]},
{"o":"OTU4 (Neisseria)","v":[6,7,8,7,3,8,9,7,0,8,7,7,3,8,3,7,8,9,8,7,8,9,7,8,3,8,7,3,7,8,9,7,1,8,7,8,3,7,8,6,7,8,1,7,8,7,6,8,7,6,8,6,7,5,7,1,7,1,1,6,3,8,7,7,8,7,5,8,7,7,6,8,7,6]},
{"o":"OTU9 (Neisseria)","v":[5,3,6,1,7,8,6,5,3,7,6,3,5,7,6,8,1,7,3,7,8,1,7,6,0,6,1,7,6,8,3,7,8,6,5,3,8,7,1,3,7,6,8,1,6,7,5,7,6,6,7,5,6,0,0,7,6,1,1,7,5,0,6,7,6,7,6,0,7,3,6,3,7,5]},
{"o":"OTU965 (Neisseria)","v":[5,7,5,8,9,6,8,3,7,5,7,8,3,7,3,6,8,7,5,9,7,6,7,1,1,7,1,8,3,7,6,8,9,7,5,6,9,7,3,6,8,5,1,7,6,9,5,8,6,7,6,7,8,6,7,5,8,0,1,7,3,7,6,8,7,6,8,5,7,3,1,7,6,8]},
{"o":"OTU23 (Prevotella)","v":[7,6,1,7,8,7,6,8,7,7,8,6,8,7,7,6,7,6,7,8,7,7,6,8,1,7,1,8,7,6,8,7,6,8,7,8,7,6,8,7,8,6,7,7,8,7,6,1,7,7,8,7,0,7,8,7,7,0,1,7,8,0,7,8,7,8,7,6,8,7,6,8,7,1]}]},
"transform":[{"flatten":["v"]},{"window":[{"op":"row_number","as":"c"}],"groupby":["o"]}],
"mark":{"type":"rect"},
"encoding":{"x":{"field":"c","type":"ordinal","scale":{"range":[921.5,1865],"paddingInner":0,"paddingOuter":0},"axis":{"orient":"bottom","offset":-617,"labelAngle":-90,"labelFontSize":6,"labelColor":"#a3a3a3","labelOverlap":false,"labelPadding":3,"ticks":false,"title":null,"labelExpr":"(datum.value<=49?'HC':'S')+datum.value"}},"y":{"field":"o","type":"nominal","sort":null,"scale":{"range":[487,791],"paddingInner":0,"paddingOuter":0},"axis":{"orient":"right","offset":-95,"labelFontSize":5,"labelColor":"#555","labelFontStyle":"italic","labelOverlap":false,"labelLimit":0,"labelPadding":2,"ticks":false,"title":null}},"color":{"field":"v","type":"quantitative","scale":{"domain":[0,0.4,4,7.5,10],"range":["#4169E1","#228B22","#F0E68C","#FFA500","#FF4500"]},"legend":null}}},
{"encoding":{"x":{"field":"a","type":"quantitative","scale":{"domain":[0,221],"range":[921.5,1865],"nice":false,"zero":false},"axis":null},"x2":{"field":"b"},"y":{"field":"lo","type":"quantitative","scale":{"domain":[0,1],"range":[791,487],"nice":false,"zero":false},"axis":null},"y2":{"field":"hi"}},
"layer":[
{"data":{"values":[{"a":0,"b":147,"lo":1.004,"hi":1.0286}]},"mark":{"type":"rect","fill":"#C4333C"}},
{"data":{"values":[{"a":147,"b":221,"lo":1.004,"hi":1.0286}]},"mark":{"type":"rect","fill":"#4B3B8F"}},
{"data":{"values":[{"a":0,"b":221,"lo":0,"hi":1}]},"mark":{"type":"rect","fill":"transparent","stroke":"black","strokeWidth":2}},
{"data":{"values":[{"a":0,"b":221,"lo":-0.159,"hi":-0.114}]},"mark":{"type":"rect","stroke":"black","strokeWidth":1.5,"fill":{"gradient":"linear","x1":0,"y1":0,"x2":1,"y2":0,"stops":[{"offset":0,"color":"#4169E1"},{"offset":0.25,"color":"#228B22"},{"offset":0.5,"color":"#F0E68C"},{"offset":0.75,"color":"#FFA500"},{"offset":1,"color":"#FF4500"}]}}}
]},
{"data":{"values":[{"p":0},{"p":1},{"p":2},{"p":3},{"p":4}]},"mark":{"type":"point","opacity":0},"encoding":{"x":{"field":"p","type":"quantitative","scale":{"domain":[0,4],"range":[922,1864],"nice":false,"zero":false},"axis":{"orient":"bottom","offset":-568,"values":[0,1,2,3,4],"labelFontSize":5,"labelColor":"#555","labelExpr":"['0','0','0.50','2.30','77.51'][datum.value]","tickSize":3,"tickWidth":1.5,"title":"Relative abundance of community (%)","titleFontSize":5,"titleColor":"#555","titlePadding":5}}}},
{"data":{"values":[{"n":222,"y1":119,"y2":137,"c1":403,"c2":403},{"n":397,"y1":155,"y2":174,"c1":403,"c2":403},{"n":340,"y1":165,"y2":192,"c1":397,"c2":403},{"n":300,"y1":178,"y2":210,"c1":340,"c2":403},{"n":264,"y1":194,"y2":228,"c1":300,"c2":403},{"n":227,"y1":211,"y2":247,"c1":264,"c2":403},{"n":175,"y1":128,"y2":229,"c1":222,"c2":227},{"n":392,"y1":265,"y2":283,"c1":403,"c2":403},{"n":362,"y1":274,"y2":301,"c1":392,"c2":403},{"n":392,"y1":320,"y2":338,"c1":403,"c2":403},{"n":346,"y1":288,"y2":329,"c1":362,"c2":392},{"n":360,"y1":356,"y2":374,"c1":403,"c2":403},{"n":310,"y1":308,"y2":365,"c1":346,"c2":360},{"n":382,"y1":392,"y2":411,"c1":403,"c2":403},{"n":272,"y1":336,"y2":402,"c1":310,"c2":382},{"n":106,"y1":178,"y2":369,"c1":175,"c2":272},{"n":344,"y1":429,"y2":447,"c1":403,"c2":403},{"n":314,"y1":438,"y2":465,"c1":344,"c2":403},{"n":340,"y1":484,"y2":502,"c1":403,"c2":403},{"n":258,"y1":452,"y2":493,"c1":314,"c2":340},{"n":380,"y1":520,"y2":538,"c1":403,"c2":403},{"n":282,"y1":529,"y2":557,"c1":380,"c2":403},{"n":210,"y1":472,"y2":543,"c1":258,"c2":282},{"n":310,"y1":575,"y2":593,"c1":403,"c2":403},{"n":264,"y1":584,"y2":611,"c1":310,"c2":403},{"n":228,"y1":597,"y2":630,"c1":264,"c2":403},{"n":135,"y1":508,"y2":613,"c1":210,"c2":228},{"n":396,"y1":648,"y2":666,"c1":403,"c2":403},{"n":326,"y1":657,"y2":684,"c1":396,"c2":403},{"n":252,"y1":671,"y2":703,"c1":326,"c2":403},{"n":194,"y1":687,"y2":721,"c1":252,"c2":403},{"n":382,"y1":739,"y2":757,"c1":403,"c2":403},{"n":340,"y1":748,"y2":775,"c1":382,"c2":403},{"n":168,"y1":704,"y2":762,"c1":194,"c2":340},{"n":107,"y1":561,"y2":733,"c1":135,"c2":168},{"n":48,"y1":272,"y2":647,"c1":106,"c2":107},{"n":380,"y1":794,"y2":812,"c1":403,"c2":403},{"n":396,"y1":830,"y2":848,"c1":403,"c2":403},{"n":380,"y1":839,"y2":867,"c1":396,"c2":403},{"n":283,"y1":803,"y2":853,"c1":380,"c2":380},{"n":271,"y1":828,"y2":885,"c1":283,"c2":403},{"n":298,"y1":903,"y2":921,"c1":403,"c2":403},{"n":220,"y1":857,"y2":912,"c1":271,"c2":298},{"n":340,"y1":940,"y2":958,"c1":403,"c2":403},{"n":188,"y1":885,"y2":949,"c1":220,"c2":340},{"n":322,"y1":976,"y2":994,"c1":403,"c2":403},{"n":228,"y1":985,"y2":1013,"c1":322,"c2":403},{"n":168,"y1":917,"y2":999,"c1":188,"c2":228},{"n":-16,"y1":460,"y2":960,"c1":48,"c2":168}]},
"layer":[
{"mark":{"type":"rule","color":"#111","strokeWidth":1.3},"encoding":{"x":{"field":"n","type":"quantitative","scale":{"domain":[-16,403],"range":[754,914],"nice":false,"zero":false},"axis":null},"y":{"field":"y1","type":"quantitative","scale":{"domain":[110,1022],"range":[487,791],"nice":false,"zero":false},"axis":null},"y2":{"field":"y2"}}},
{"mark":{"type":"rule","color":"#111","strokeWidth":1.3},"encoding":{"x":{"field":"n","type":"quantitative","axis":null},"x2":{"field":"c1"},"y":{"field":"y1","type":"quantitative","axis":null}}},
{"mark":{"type":"rule","color":"#111","strokeWidth":1.3},"encoding":{"x":{"field":"n","type":"quantitative","axis":null},"x2":{"field":"c2"},"y":{"field":"y2","type":"quantitative","axis":null}}}
]},
{"data":{"values":[{"x0":0.8687,"x1":40.2,"y0":0.01734,"y1":0.1599}]},"mark":{"type":"rect","fill":"transparent","stroke":"black","strokeWidth":2},"encoding":{"x":{"field":"x0","type":"quantitative","scale":{"type":"log","domain":[0.8687,40.2],"range":[67.3,527.8],"nice":false},"axis":{"orient":"bottom","offset":-56.3,"values":[1,2,5,10,20],"format":"d","labelFontSize":13,"labelPadding":12,"tickSize":7,"tickWidth":1.5,"title":"Number of vars","titleFontSize":12.5,"titlePadding":7}},"x2":{"field":"x1"},"y":{"field":"y0","type":"quantitative","scale":{"domain":[0.01734,0.1599],"range":[1351.7,938.3],"nice":false,"zero":false},"axis":{"orient":"left","offset":-67.3,"values":[0.02,0.04,0.06,0.08,0.1,0.12,0.14],"format":".2f","labelFontSize":12,"labelAngle":-90,"labelPadding":9,"tickSize":7,"tickWidth":1.5,"title":"CV Error","titleFontSize":12,"titlePadding":13}},"y2":{"field":"y1"}}},
{"encoding":{"x":{"field":"x","type":"quantitative","scale":{"type":"log","domain":[0.8687,40.2],"range":[67.3,527.8],"nice":false},"axis":null},"y":{"field":"y","type":"quantitative","scale":{"domain":[0.01734,0.1599],"range":[1351.7,938.3],"nice":false,"zero":false},"axis":null}},
"layer":[
{"data":{"values":[{"l":"a","x":1,"y":0.1547},{"l":"a","x":2,"y":0.109},{"l":"a","x":4,"y":0.0725},{"l":"a","x":9,"y":0.0545},{"l":"a","x":18,"y":0.0365},{"l":"a","x":35,"y":0.023},{"l":"b","x":1,"y":0.1455},{"l":"b","x":2,"y":0.1045},{"l":"b","x":4,"y":0.082},{"l":"b","x":9,"y":0.0495},{"l":"b","x":18,"y":0.0365},{"l":"b","x":35,"y":0.032},{"l":"c","x":1,"y":0.141},{"l":"c","x":2,"y":0.1},{"l":"c","x":4,"y":0.1},{"l":"c","x":9,"y":0.0595},{"l":"c","x":18,"y":0.0365},{"l":"c","x":35,"y":0.023},{"l":"d","x":1,"y":0.1275},{"l":"d","x":2,"y":0.1045},{"l":"d","x":4,"y":0.068},{"l":"d","x":9,"y":0.0545},{"l":"d","x":18,"y":0.03},{"l":"d","x":35,"y":0.0275},{"l":"e","x":1,"y":0.1275},{"l":"e","x":2,"y":0.0965},{"l":"e","x":4,"y":0.068},{"l":"e","x":9,"y":0.0365},{"l":"e","x":18,"y":0.0275},{"l":"e","x":35,"y":0.023},{"l":"f","x":1,"y":0.139},{"l":"f","x":2,"y":0.104},{"l":"f","x":4,"y":0.078},{"l":"f","x":9,"y":0.05},{"l":"f","x":18,"y":0.0225},{"l":"f","x":35,"y":0.032}]},"mark":{"type":"line","color":"black","strokeWidth":1.5},"encoding":{"detail":{"field":"l"}}},
{"data":{"values":[{"x":1,"y":0.1395},{"x":2,"y":0.104},{"x":4,"y":0.078},{"x":9,"y":0.05},{"x":18,"y":0.031},{"x":35,"y":0.027}]},"mark":{"type":"line","color":"black","strokeWidth":3.5}},
{"data":{"values":[{"x":9,"y":0.01734,"y2":0.1599}]},"mark":{"type":"rule","color":"#FFC0CB","strokeWidth":4.5},"encoding":{"y2":{"field":"y2"}}},
{"data":{"values":[{"x":8.5,"y":0.0228,"t":"9"}]},"mark":{"type":"text","color":"#FFC0CB","fontSize":13,"fontWeight":"bold","baseline":"middle"},"encoding":{"text":{"field":"t"}}}
]},
{"data":{"values":[{"x0":0.418,"x1":2.5826,"y0":-0.0405,"y1":1.0407}]},"mark":{"type":"rect","fill":"transparent","stroke":"#222","strokeWidth":2},"encoding":{"x":{"field":"x0","type":"quantitative","scale":{"domain":[0.418,2.5826],"range":[741.6,1202.8],"nice":false,"zero":false},"axis":{"orient":"bottom","offset":-62,"values":[1,2],"labelExpr":"datum.value==1?'HC':'stable'","labelFontSize":13,"labelPadding":8,"tickSize":8,"tickWidth":1.5,"tickOpacity":{"expr":"datum.value==2?1:0"},"title":"Groups","titleX":950,"titleFontSize":12.5,"titlePadding":10}},"x2":{"field":"x1"},"y":{"field":"y0","type":"quantitative","scale":{"domain":[-0.0405,1.0407],"range":[1346,937.3],"nice":false,"zero":false},"axis":{"orient":"left","offset":-741.6,"values":[0,0.2,0.4,0.6,0.8,1],"format":".1f","labelFontSize":12,"labelAngle":-90,"labelPadding":8,"tickSize":7,"tickWidth":1.5,"title":"POD","titleFontSize":12,"titlePadding":17}},"y2":{"field":"y1"}}},
{"encoding":{"x":{"field":"x","type":"quantitative","scale":{"domain":[0.418,2.5826],"range":[741.6,1202.8],"nice":false,"zero":false},"axis":null},"y":{"field":"y","type":"quantitative","scale":{"domain":[-0.0405,1.0407],"range":[1346,937.3],"nice":false,"zero":false},"axis":null}},
"layer":[
{"data":{"values":[{"x":1,"y":0.06,"y2":0.145},{"x":2,"y":0.79,"y2":0.55}]},"mark":{"type":"rule","color":"black","strokeWidth":1.5,"strokeDash":[6,7]},"encoding":{"y2":{"field":"y2"}}},
{"data":{"values":[{"x":2,"y":0.98,"y2":1}]},"mark":{"type":"rule","color":"black","strokeWidth":1.5},"encoding":{"y2":{"field":"y2"}}},
{"data":{"values":[{"x":0.8,"x2":1.2,"y":0.145},{"x":1.8,"x2":2.2,"y":1},{"x":1.8,"x2":2.2,"y":0.55}]},"mark":{"type":"rule","color":"black","strokeWidth":1.8},"encoding":{"x2":{"field":"x2"}}},
{"data":{"values":[{"x":0.6,"x2":1.4,"y":0,"y2":0.06}]},"mark":{"type":"rect","fill":"#00CC00","stroke":"black","strokeWidth":1.6},"encoding":{"x2":{"field":"x2"},"y2":{"field":"y2"}}},
{"data":{"values":[{"x":1.6,"x2":2.4,"y":0.79,"y2":0.98}]},"mark":{"type":"rect","fill":"#FF0000","stroke":"black","strokeWidth":1.6},"encoding":{"x2":{"field":"x2"},"y2":{"field":"y2"}}},
{"data":{"values":[{"x":0.6,"x2":1.4,"y":0.004},{"x":1.6,"x2":2.4,"y":0.935}]},"mark":{"type":"rule","color":"black","strokeWidth":5.5},"encoding":{"x2":{"field":"x2"}}},
{"data":{"values":[{"x":1,"y":0.76},{"x":1,"y":0.695},{"x":1,"y":0.66},{"x":1,"y":0.545},{"x":1,"y":0.46},{"x":1,"y":0.385},{"x":1,"y":0.37},{"x":1,"y":0.365},{"x":1,"y":0.31},{"x":1,"y":0.275},{"x":1,"y":0.265},{"x":1,"y":0.25},{"x":1,"y":0.215},{"x":1,"y":0.195},{"x":1,"y":0.175},{"x":1,"y":0.15},{"x":2,"y":0.4},{"x":2,"y":0.29},{"x":2,"y":0.205}]},"mark":{"type":"point","shape":"circle","filled":false,"color":"black","size":26,"strokeWidth":1.8,"opacity":1}}
]},
{"data":{"values":[{"x0":1.04,"x1":-0.041,"y0":-0.0412,"y1":1.0395}]},"mark":{"type":"rect","fill":"transparent","stroke":"#222","strokeWidth":2},"encoding":{"x":{"field":"x0","type":"quantitative","scale":{"domain":[1.04,-0.041],"range":[1429.8,1867.9],"nice":false,"zero":false},"axis":{"orient":"bottom","offset":-56.3,"values":[1,0.8,0.6,0.4,0.2,0],"format":".1f","labelFontSize":12,"labelPadding":11,"tickSize":7,"tickWidth":1.5,"title":"Specificity(%)","titleFontSize":12.5,"titlePadding":12}},"x2":{"field":"x1"},"y":{"field":"y0","type":"quantitative","scale":{"domain":[-0.0412,1.0395],"range":[1351.7,914],"nice":false,"zero":false},"axis":{"orient":"left","offset":-1429.8,"values":[0,0.2,0.4,0.6,0.8,1],"format":".1f","labelFontSize":12,"labelAngle":-90,"labelPadding":6,"tickSize":7,"tickWidth":1.5,"title":"Sensitivity(%)","titleFontSize":12.5,"titlePadding":13}},"y2":{"field":"y1"}}},
{"encoding":{"x":{"field":"x","type":"quantitative","scale":{"domain":[1.04,-0.041],"range":[1429.8,1867.9],"nice":false,"zero":false},"axis":null},"y":{"field":"y","type":"quantitative","scale":{"domain":[-0.0412,1.0395],"range":[1351.7,914],"nice":false,"zero":false},"axis":null}},
"layer":[
{"data":{"values":[{"x":0.996,"y":0.687,"y2":0.957},{"x":0.98,"y":0.735,"y2":0.968},{"x":0.969,"y":0.765,"y2":0.974},{"x":0.95,"y":0.822,"y2":0.98},{"x":0.93,"y":0.88,"y2":0.987},{"x":0.902,"y":0.963,"y2":1},{"x":0.822,"y":0.996,"y2":1}]},"mark":{"type":"area","color":"#ADD8E6","opacity":1},"encoding":{"y2":{"field":"y2"}}},
{"data":{"values":[{"x":1.04,"y":-0.04},{"x":-0.04,"y":1.04}]},"mark":{"type":"line","color":"#a6a6a6","strokeWidth":1.5}},
{"data":{"values":[{"i":1,"x":1,"y":0},{"i":2,"x":1,"y":0.758},{"i":3,"x":0.993,"y":0.758},{"i":4,"x":0.993,"y":0.825},{"i":5,"x":0.985,"y":0.825},{"i":6,"x":0.985,"y":0.838},{"i":7,"x":0.98,"y":0.838},{"i":8,"x":0.98,"y":0.96},{"i":9,"x":0.969,"y":0.96},{"i":10,"x":0.969,"y":0.974},{"i":11,"x":0.93,"y":0.974},{"i":12,"x":0.93,"y":0.987},{"i":13,"x":0.902,"y":0.987},{"i":14,"x":0.902,"y":1},{"i":15,"x":0,"y":1}]},"mark":{"type":"line","color":"black","strokeWidth":4,"strokeJoin":"miter"},"encoding":{"order":{"field":"i","type":"quantitative"}}},
{"data":{"values":[{"x":0.9795,"y":0.9595}]},"mark":{"type":"circle","color":"#FF0000","size":85,"opacity":1}},
{"data":{"values":[{"x":0.862,"y":0.902,"t":"0.5467"},{"x":0.862,"y":0.846,"t":"(0.9795,0.9595)"}]},"mark":{"type":"text","fontSize":18,"align":"left","baseline":"middle"},"encoding":{"text":{"field":"t"}}},
{"data":{"values":[{"x":0.205,"y":0.056,"t":"AUC: 0.9942"},{"x":0.205,"y":0.019,"t":"95% CI: 0.9884−1"},{"x":0.205,"y":-0.018,"t":"p−value: < 0.0001"}]},"mark":{"type":"text","fontSize":12,"align":"left","baseline":"middle"},"encoding":{"text":{"field":"t"}}}
]},
{"encoding":{"x":{"field":"x","type":"quantitative","scale":{"domain":[0,1960],"range":[0,1960]},"axis":null},"y":{"field":"y","type":"quantitative","scale":{"domain":[0,1408],"range":[0,1408]},"axis":null},"text":{"field":"t"}},
"layer":[
{"data":{"values":[{"x":11,"y":32,"t":"A"},{"x":763,"y":29,"t":"B"},{"x":1359,"y":35,"t":"C"},{"x":11,"y":461,"t":"D"},{"x":820,"y":466,"t":"E"},{"x":11,"y":927,"t":"F"},{"x":690,"y":927,"t":"G"},{"x":1364,"y":927,"t":"H"}]},"mark":{"type":"text","fontSize":21,"fontWeight":"bold","align":"center","baseline":"middle"}},
{"data":{"values":[{"x":1636,"y":7,"t":"genus"},{"x":271,"y":464,"t":"genus.average."}]},"mark":{"type":"text","fontSize":13,"align":"center","baseline":"middle"}},
{"data":{"values":[{"x":973,"y":905,"t":"Probability"}]},"mark":{"type":"text","fontSize":14,"fontWeight":"bold","align":"center","baseline":"middle"}},
{"data":{"values":[{"x":894,"y":472,"t":"HC"},{"x":894,"y":479.5,"t":"stable"}]},"mark":{"type":"text","fontSize":5.5,"align":"left","baseline":"middle","color":"#333"}},
{"data":{"values":[{"x":887,"y":472,"t":"■"}]},"mark":{"type":"text","fontSize":7,"align":"center","baseline":"middle","color":"#C4333C"}},
{"data":{"values":[{"x":887,"y":479.5,"t":"■"}]},"mark":{"type":"text","fontSize":7,"align":"center","baseline":"middle","color":"#4B3B8F"}}
]}
]}
